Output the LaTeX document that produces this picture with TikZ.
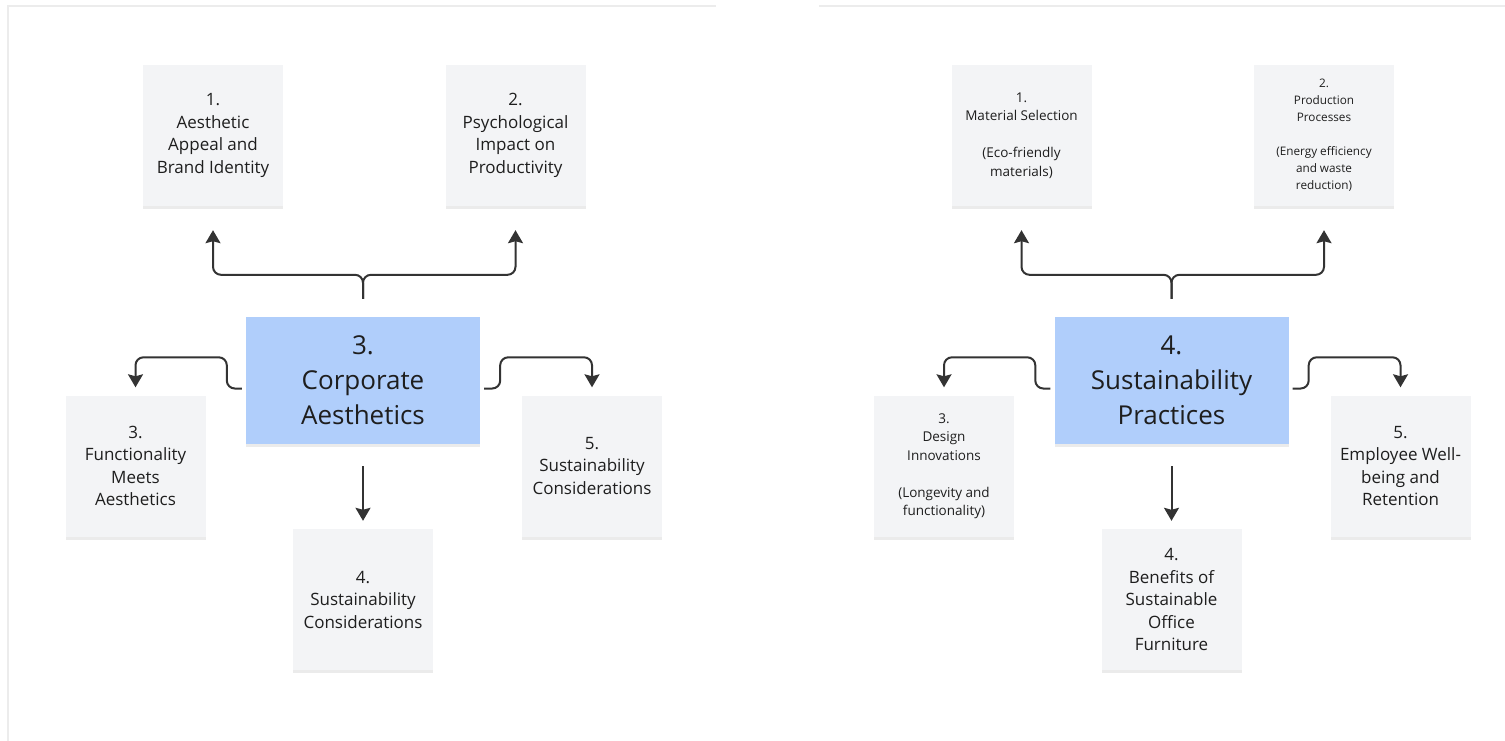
\documentclass[tikz,border=0pt]{standalone}
\usepackage{fontspec}
\setmainfont{Open Sans}
\usepackage{tikz}
\usetikzlibrary{positioning, arrows.meta, shadows}
\definecolor{notegray}{RGB}{243,244,246}
\definecolor{hubblue}{RGB}{176,206,251}
\definecolor{linkgray}{RGB}{51,51,51}
\definecolor{inkblack}{RGB}{30,30,30}
\definecolor{framegray}{RGB}{236,236,236}

\tikzset{
  note/.style={fill=notegray, minimum width=140pt, minimum height=141pt,
    align=center, text=inkblack, inner sep=3pt,
    drop shadow={shadow xshift=0pt, shadow yshift=-3pt, opacity=0.08, fill=black}},
  hub/.style={fill=hubblue, minimum width=234pt, minimum height=127pt,
    align=center, text=inkblack, font=\fontsize{26}{35}\selectfont,
    drop shadow={shadow xshift=0pt, shadow yshift=-3pt, opacity=0.08, fill=black}},
  notebig/.style={font=\fontsize{17}{22.5}\selectfont},
  notemid/.style={font=\fontsize{13.5}{18.5}\selectfont},
  notesmall/.style={font=\fontsize{11.75}{17}\selectfont},
  link/.style={draw=linkgray, line width=2pt, rounded corners=8pt,
    -{Stealth[length=13pt, width=15pt, inset=2pt]}},
}

\begin{document}
\begin{tikzpicture}[x=1pt, y=-1pt]
  \useasboundingbox (0,0) rectangle (1505,741);

  % board frames
  \draw[framegray, line width=1.5pt] (8,741) -- (8,6) -- (716,6);
  \draw[framegray, line width=1.5pt] (819,6) -- (1505,6);

  % left board: corporate aesthetics
  \node[hub] (ca) at (363,380.5) {3.\\Corporate\\Aesthetics};
  \node[note, notebig] (a1) at (213,135.5) {1.\\Aesthetic\\Appeal and\\Brand Identity};
  \node[note, notebig] (a2) at (515.5,135.5) {2.\\Psychological\\Impact on\\Productivity};
  \node[note, notebig] (a3) at (135.5,466) {3.\\Functionality\\Meets\\Aesthetics};
  \node[note, notebig] (a4) at (363,599.5) {4.\\Sustainability\\Considerations};
  \node[note, notebig] (a5) at (592,466) {5.\\Sustainability\\Considerations};

  \draw[link] ([yshift=18pt]ca.north) -- ([yshift=42pt]ca.north) -| ([yshift=-24pt]a1.south);
  \draw[link] ([yshift=18pt]ca.north) -- ([yshift=42pt]ca.north) -| ([yshift=-24pt]a2.south);
  \draw[link] ([xshift=-4pt, yshift=-8pt]ca.west) -- ++(-15pt,0pt)
    |- ([yshift=38pt]a3.north) -- ([yshift=8pt]a3.north);
  \draw[link] ([xshift=4pt, yshift=-8pt]ca.east) -- ++(16pt,0pt)
    |- ([yshift=38pt]a5.north) -- ([yshift=8pt]a5.north);
  \draw[link] ([yshift=-22pt]ca.south) -- ([yshift=8pt]a4.north);

  % right board: sustainability practices
  \node[hub] (sp) at (1171.5,380.5) {4.\\Sustainability\\Practices};
  \node[note, notemid] (b1) at (1021.5,135.5) {1.\\Material Selection\\[18.5pt](Eco-friendly\\materials)};
  \node[note, notesmall] (b2) at (1324,135.5) {2.\\Production\\Processes\\[17pt](Energy efficiency\\and waste\\reduction)};
  \node[note, notemid] (b3) at (944,466) {3.\\Design\\Innovations\\[18.5pt](Longevity and\\functionality)};
  \node[note, notebig] (b4) at (1171.5,599.5) {4.\\Benefits of\\Sustainable\\Office\\Furniture};
  \node[note, notebig] (b5) at (1400.5,466) {5.\\Employee Well-\\being and\\Retention};

  \draw[link] ([yshift=18pt]sp.north) -- ([yshift=42pt]sp.north) -| ([yshift=-24pt]b1.south);
  \draw[link] ([yshift=18pt]sp.north) -- ([yshift=42pt]sp.north) -| ([yshift=-24pt]b2.south);
  \draw[link] ([xshift=-4pt, yshift=-8pt]sp.west) -- ++(-15pt,0pt)
    |- ([yshift=38pt]b3.north) -- ([yshift=8pt]b3.north);
  \draw[link] ([xshift=4pt, yshift=-8pt]sp.east) -- ++(16pt,0pt)
    |- ([yshift=38pt]b5.north) -- ([yshift=8pt]b5.north);
  \draw[link] ([yshift=-22pt]sp.south) -- ([yshift=8pt]b4.north);
\end{tikzpicture}
\end{document}
